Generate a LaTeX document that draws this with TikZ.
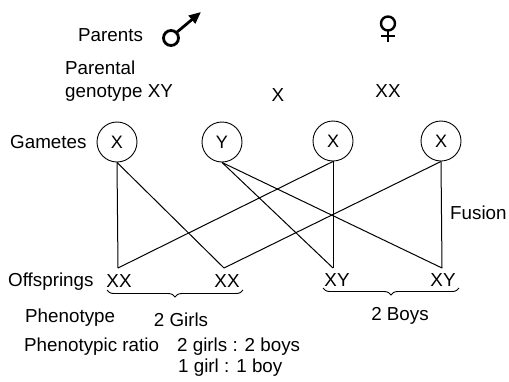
\documentclass[tikz,border=0pt]{standalone}
\usepackage{fontspec}
\setmainfont{Liberation Sans}
\usetikzlibrary{decorations.pathreplacing,arrows.meta}
\tikzset{
	every label text/.style={
		inner sep=0pt,
		font=\fontsize{18.8}{23}\selectfont
	},
	gamete/.style={
		circle,
		draw,
		line width=0.9pt,
		minimum size=40pt,
		inner sep=0pt,
		font=\fontsize{18}{20}\selectfont
	},
	fusion line/.style={line width=1pt},
	offspring brace/.style={
		decorate,
		decoration={brace,amplitude=7pt},
		line width=0.9pt
	},
}

\begin{document}
\begin{tikzpicture}[x=1pt,y=-1pt]
\tikzset{txt/.style={every label text, anchor=west}}
\useasboundingbox (0,0) rectangle (509,381);

% parents
\node[txt] (parents) at (78,35) {Parents};
\draw[line width=2.8pt] (171,38) circle (7.5);
\draw[line width=2.8pt, -{Triangle[length=12pt,width=10pt]}] (176.5,32.5) -- (201,12);
\draw[line width=2.4pt] (388,23.5) circle (7);
\draw[line width=2.4pt] (388,30.5) -- (388,42)
	(381,36) -- (395,36);

\node[txt, anchor=north west, align=left] (genotype) at (65,61) {Parental\\genotype XY};
\node[every label text] (gX) at (278,95) {X};
\node[every label text] (gXX) at (388,91) {XX};

% gametes
\node[txt] (gametes) at (10,142) {Gametes};
\node[gamete] (g1) at (117,142) {X};
	\node[gamete] (g2) at (222,142) {Y};
		\node[gamete] (g3) at (333,141) {X};
			\node[gamete] (g4) at (441,141) {X};

\coordinate (o1) at (118,268);
\coordinate (o2) at (224,268);
\coordinate (o3) at (333,268);
\coordinate (o4) at (442,268);

\draw[fusion line] (g1.south) -- (o1);
\draw[fusion line] (g1.south) -- (o2);
\draw[fusion line] (g2.south) -- (o3);
\draw[fusion line] (g2.south) -- (o4);
\draw[fusion line] (g3.south) -- (o1);
\draw[fusion line] (g3.south) -- (o3);
\draw[fusion line] (g4.south) -- (o2);
\draw[fusion line] (g4.south) -- (o4);

\node[txt] (fusion) at (450,213) {Fusion};

% offsprings
\node[txt] (offsprings) at (8,282) {Offsprings};
\node[every label text] (xx1) at (119,281) {XX};
\node[every label text] (xx2) at (227,281) {XX};
\node[every label text] (xy1) at (337,280) {XY};
\node[every label text] (xy2) at (443,280) {XY};

\draw[offspring brace] (243,290) -- (107,290);
\draw[offspring brace] (459,288) -- (323,288);

\node[txt] (phenotype) at (25,318) {Phenotype};
\node[every label text] (girls) at (181,320) {2 Girls};
\node[every label text] (boys) at (400,316) {2 Boys};

\node[txt] (ratio) at (24,347) {Phenotypic ratio};
\node[txt] (ratio2) at (177,347) {2 girls : 2 boys};
\node[txt] (ratio1) at (178,368) {1 girl : 1 boy};
\end{tikzpicture}
\end{document}
